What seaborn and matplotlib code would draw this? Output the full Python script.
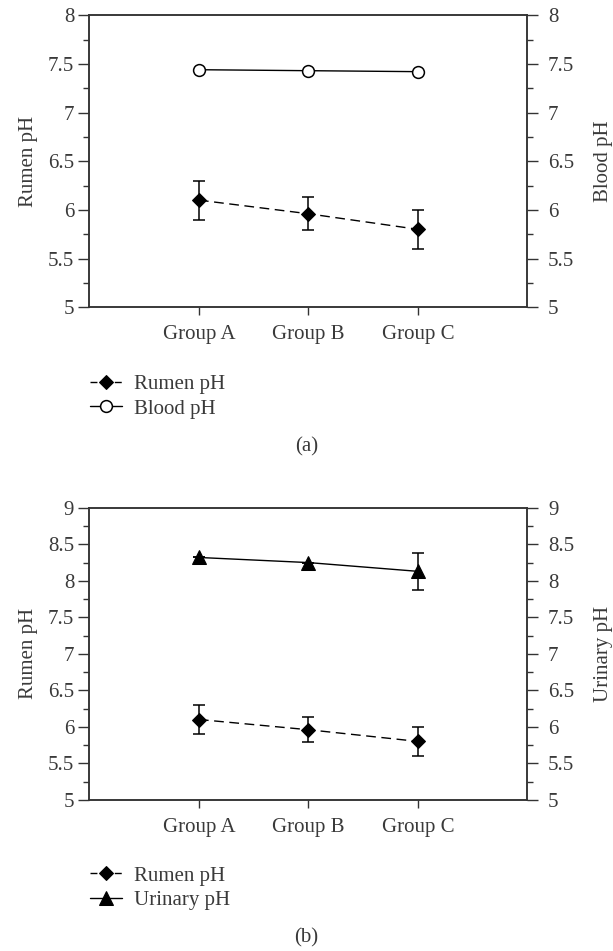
import numpy as np
import pandas as pd
import matplotlib
matplotlib.use("Agg")
import matplotlib.pyplot as plt
import seaborn as sns

# values
groups = ["Group A", "Group B", "Group C"]
rumen_ph = [6.10, 5.96, 5.80]
rumen_err = [0.20, 0.17, 0.20]
blood_ph = [7.44, 7.43, 7.42]
urinary_ph = [8.32, 8.25, 8.13]
urinary_err = [0.0, 0.0, 0.25]

sns.set_style("ticks")
plt.rcParams["font.family"] = ["Liberation Serif", "DejaVu Serif"]
plt.rcParams["font.size"] = 15

FS = 15
TXT = "#3a3a3a"
SPINE = "#333333"
DASH = (0, (7, 4))

df = pd.DataFrame({
    "pos": np.arange(len(groups)),
    "group": groups,
    "rumen": rumen_ph,
    "rumen_err": rumen_err,
    "blood": blood_ph,
    "urinary": urinary_ph,
    "urinary_err": urinary_err,
})

fig = plt.figure(figsize=(6.13, 9.51), dpi=100)
ax_a = fig.add_axes([0.146, 0.677, 0.714, 0.307])
ax_b = fig.add_axes([0.146, 0.159, 0.714, 0.307])


def style_axes(ax, ax2, lo, hi, left_label, right_label):
    for a in (ax, ax2):
        a.set_ylim(lo, hi)
        a.set_yticks(np.arange(lo, hi + 0.01, 0.5))
        a.set_yticks(np.arange(lo, hi + 0.01, 0.25), minor=True)
        a.yaxis.set_major_formatter(plt.FuncFormatter(lambda v, p: f"{v:g}"))
        for s in a.spines.values():
            s.set_color(SPINE)
            s.set_linewidth(1.1)
    ax.set_xlim(-1, 3)
    ax.set_xticks(df["pos"])
    ax.set_xticklabels(groups)
    ax.tick_params(axis="x", length=6, width=1, color=SPINE, labelcolor=TXT, pad=7, labelsize=FS)
    ax.tick_params(axis="y", which="major", length=8, width=1, color=SPINE, labelcolor=TXT, pad=3, labelsize=FS)
    ax.tick_params(axis="y", which="minor", length=4, width=1, color=SPINE)
    ax2.tick_params(axis="y", which="major", length=8, width=1, color=SPINE, labelcolor=TXT, pad=7, labelsize=FS)
    ax2.tick_params(axis="y", which="minor", length=4, width=1, color=SPINE)
    ax.set_xlabel("")
    ax.set_ylabel(left_label, color=TXT, fontsize=FS, labelpad=7)
    ax2.set_ylabel(right_label, color=TXT, fontsize=FS, labelpad=14)


def draw_rumen(ax):
    sns.lineplot(data=df, x="pos", y="rumen", ax=ax, color="black", linestyle=DASH,
                 linewidth=1.0, marker="D", markersize=7.5, markeredgecolor="black",
                 markerfacecolor="black", label="Rumen pH", legend=False, zorder=3)
    ax.errorbar(df["pos"], df["rumen"], yerr=df["rumen_err"], fmt="none",
                ecolor="black", elinewidth=1.1, capsize=4.5, capthick=1.1, zorder=2)


def add_legend(ax, ax2, y_top):
    h1, l1 = ax.get_legend_handles_labels()
    h2, l2 = ax2.get_legend_handles_labels()
    leg = fig.legend(h1 + h2, l1 + l2, loc="upper left", bbox_to_anchor=(0.147, y_top),
                     frameon=False, fontsize=FS, handlelength=1.55, handletextpad=0.55,
                     labelspacing=0.235, borderpad=0, borderaxespad=0, labelcolor=TXT)
    # short dash on either side of the diamond, as in the source legend
    leg.legend_handles[0].set_linestyle((0, (5, 12.5)))
    return leg


# ---- panel (a) ----
ax_a2 = ax_a.twinx()
draw_rumen(ax_a)
sns.lineplot(data=df, x="pos", y="blood", ax=ax_a2, color="black", linewidth=1.0,
             marker="o", markersize=8.5, markerfacecolor="white", markeredgecolor="black",
             markeredgewidth=1.1, label="Blood pH", legend=False, zorder=3)
style_axes(ax_a, ax_a2, 5, 8, "Rumen pH", "Blood pH")
add_legend(ax_a, ax_a2, 0.606)
fig.text(0.5, 1 - 447 / 951, "(a)", ha="center", va="center", fontsize=FS, color=TXT)

# ---- panel (b) ----
ax_b2 = ax_b.twinx()
draw_rumen(ax_b)
sns.lineplot(data=df, x="pos", y="urinary", ax=ax_b2, color="black", linewidth=1.0,
             marker="^", markersize=10, markerfacecolor="black", markeredgecolor="black",
             label="Urinary pH", legend=False, zorder=3)
ax_b2.errorbar(df["pos"], df["urinary"], yerr=df["urinary_err"], fmt="none",
               ecolor="black", elinewidth=1.1, capsize=4.5, capthick=1.1, zorder=2)
style_axes(ax_b, ax_b2, 5, 9, "Rumen pH", "Urinary pH")
add_legend(ax_b, ax_b2, 0.0892)
fig.text(0.5, 1 - 938 / 951, "(b)", ha="center", va="center", fontsize=FS, color=TXT)

fig.savefig("out.png", dpi=100)
